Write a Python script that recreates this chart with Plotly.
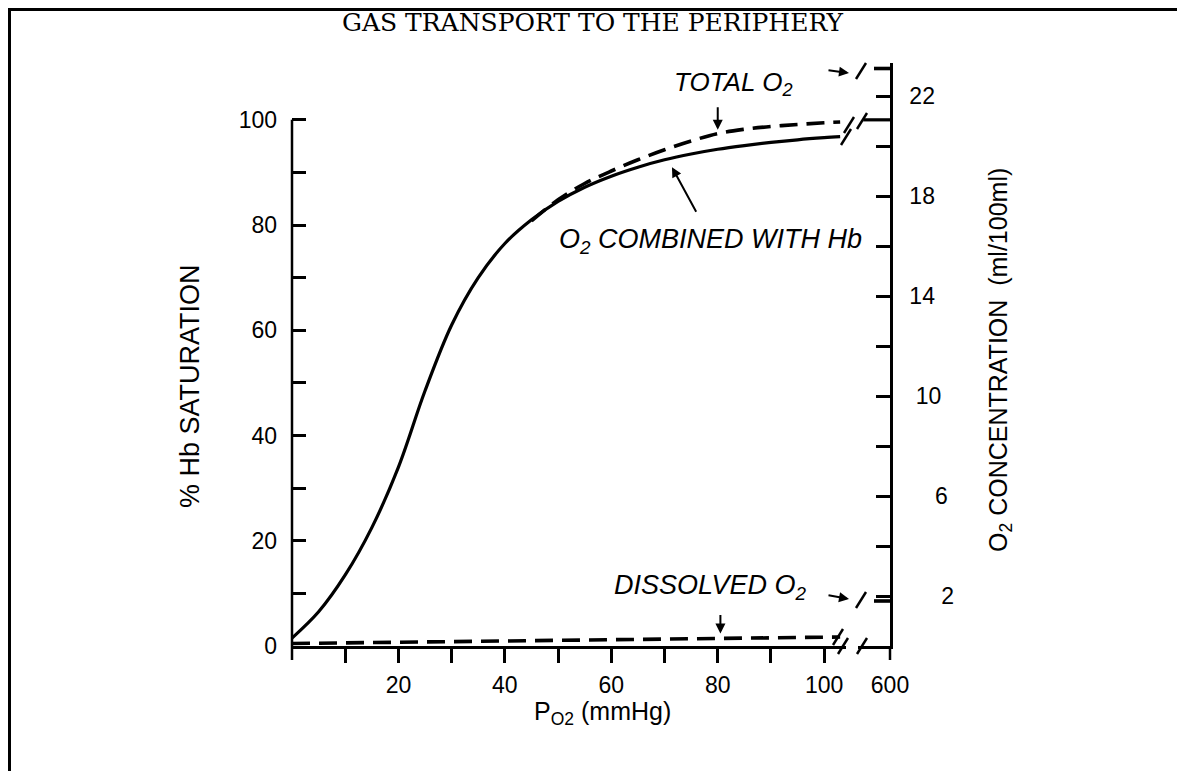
import plotly.graph_objects as go

# ---------------- data ----------------
P_HB = [0, 5, 10, 15, 20, 25, 30, 35, 40, 45, 50, 55, 60, 65, 70, 75, 80, 85, 90, 95, 100, 103]
HB_SAT = [1.5, 6.5, 13.5, 22.5, 34, 48.5, 61, 70, 76.5, 81, 84.5, 87.2, 89.3, 91, 92.4, 93.5, 94.4, 95.1, 95.7,
          96.2, 96.6, 96.8]

P_TOTAL = [45, 50, 55, 60, 65, 70, 75, 80, 85, 90, 95, 100, 103]
TOTAL_CONC = [17.0, 17.85, 18.5, 19.0, 19.45, 19.85, 20.2, 20.5, 20.67, 20.78, 20.86, 20.93, 20.96]

P_DISS = [0, 20, 40, 60, 80, 100, 103]
DISS_CONC = [0.1, 0.15, 0.2, 0.25, 0.3, 0.35, 0.36]

P_HB_HIGH = [595, 600]
HB_SAT_HIGH = [100, 100]
P_TOTAL_HIGH = [597, 600]
TOTAL_HIGH = [23.1, 23.1]
P_DISS_HIGH = [597, 600]
DISS_HIGH = [1.8, 1.8]

X_TICKS = [10, 20, 30, 40, 50, 60, 70, 80, 90, 100]
X_LABELS = ["", "20", "", "40", "", "60", "", "80", "", "100"]
YL_TICKS = [0, 10, 20, 30, 40, 50, 60, 70, 80, 90, 100]
YL_LABELS = ["0", "", "20", "", "40", "", "60", "", "80", "", "100"]
YR_TICKS = [0, 2, 4, 6, 8, 10, 12, 14, 16, 18, 20, 22]
YR_LABELS = ["", "\u00a0\u00a0\u00a0\u00a0\u00a02", "", "\u00a0\u00a0\u00a0\u00a06", "", "\u00a010", "", "14", "",
             "18", "", "22"]

# ---------------- geometry (page pixels, page has an 8px body margin) ----------------
OFF = 8
W, H = 1177, 763
L, R, T, B = 284, 295, 55, 125
PW = W - L - R
PH = H - T - B
ZERO_PAGE_Y = OFF + H - B  # page y of the x axis (646)


def fx(px):
    return (px - OFF - L) / PW


def fy(py):
    return (ZERO_PAGE_Y - py) / PH


YL_RANGE = [0, 110.8]
YR_RANGE = [0, 23.32]
X1_RANGE = [0, 104.1]
X2_RANGE = [594, 600]

FONT = "Liberation Sans"
BLACK = "black"
LW = 3.2
DASH = "18px,9px"

fig = go.Figure()
fig.add_trace(go.Scatter(x=P_HB, y=HB_SAT, mode="lines",
                         line=dict(color=BLACK, width=LW, shape="spline", smoothing=1.0),
                         xaxis="x", yaxis="y", showlegend=False))
fig.add_trace(go.Scatter(x=P_HB_HIGH, y=HB_SAT_HIGH, mode="lines", line=dict(color=BLACK, width=LW),
                         xaxis="x2", yaxis="y", showlegend=False))
fig.add_trace(go.Scatter(x=P_TOTAL, y=TOTAL_CONC, mode="lines",
                         line=dict(color=BLACK, width=3.6, dash=DASH, shape="spline"),
                         xaxis="x", yaxis="y2", showlegend=False))
fig.add_trace(go.Scatter(x=P_DISS, y=DISS_CONC, mode="lines",
                         line=dict(color=BLACK, width=3.6, dash=DASH),
                         xaxis="x", yaxis="y2", showlegend=False))
fig.add_trace(go.Scatter(x=P_TOTAL_HIGH, y=TOTAL_HIGH, mode="lines", line=dict(color=BLACK, width=3.6),
                         xaxis="x2", yaxis="y2", showlegend=False))
fig.add_trace(go.Scatter(x=P_DISS_HIGH, y=DISS_HIGH, mode="lines", line=dict(color=BLACK, width=3.6),
                         xaxis="x2", yaxis="y2", showlegend=False))

tickfont = dict(family=FONT, size=23, color=BLACK)
fig.update_layout(
    width=W, height=H,
    margin=dict(l=L, r=R, t=T, b=B, pad=0),
    paper_bgcolor="white", plot_bgcolor="white",
    xaxis=dict(domain=[0, fx(846)], range=X1_RANGE, anchor="y", showline=True, linecolor=BLACK, linewidth=2.5,
               ticks="outside", ticklen=14, tickwidth=2.5, tickcolor=BLACK, tickvals=X_TICKS, ticktext=X_LABELS,
               tickfont=tickfont, showgrid=False, zeroline=False, ticklabelstandoff=3),
    xaxis2=dict(domain=[fx(858), 1], range=X2_RANGE, anchor="y", showline=True, linecolor=BLACK, linewidth=2.5,
                ticks="", tickvals=[600], ticktext=["600"], tickfont=tickfont, showgrid=False, zeroline=False,
                ticklabelstandoff=17),
    yaxis=dict(range=YL_RANGE, anchor="x", showline=False, ticks="inside", ticklen=14, tickwidth=2.5,
               tickcolor=BLACK, tickvals=YL_TICKS, ticktext=YL_LABELS, tickfont=tickfont, showgrid=False,
               zeroline=False, ticklabelstandoff=14),
    yaxis2=dict(range=YR_RANGE, overlaying="y", side="right", anchor="x2", showline=True, linecolor=BLACK,
                linewidth=2.5, ticks="inside", ticklen=14, tickwidth=2.5, tickcolor=BLACK, tickvals=YR_TICKS,
                ticktext=YR_LABELS, tickfont=tickfont, showgrid=False, zeroline=False, ticklabelstandoff=12),
)

shapes = []
# left axis line (stops at 100 %), extending below the x axis like the reference
shapes.append(dict(type="line", xref="paper", yref="paper", x0=0, x1=0, y0=fy(ZERO_PAGE_Y + 14),
                   y1=100 / YL_RANGE[1], line=dict(color=BLACK, width=2.5)))
# right axis extension below zero
shapes.append(dict(type="line", xref="paper", yref="paper", x0=1, x1=1, y0=fy(ZERO_PAGE_Y + 14), y1=0,
                   line=dict(color=BLACK, width=2.5)))
# figure border (top and left)
shapes.append(dict(type="line", xref="paper", yref="paper", x0=fx(OFF), x1=fx(OFF + W), y0=fy(OFF + 1.5),
                   y1=fy(OFF + 1.5), line=dict(color=BLACK, width=3)))
shapes.append(dict(type="line", xref="paper", yref="paper", x0=fx(OFF + 1.5), x1=fx(OFF + 1.5), y0=fy(OFF),
                   y1=fy(OFF + H), line=dict(color=BLACK, width=3)))


def slash(px, py):
    shapes.append(dict(type="line", xref="paper", yref="paper", x0=fx(px - 5), x1=fx(px + 5),
                       y0=fy(py + 8), y1=fy(py - 8), line=dict(color=BLACK, width=2.5)))


# axis-break marks
for (xa, ya) in [(843, ZERO_PAGE_Y), (838, ZERO_PAGE_Y - 9), (846, 137), (849, 125)]:
    slash(xa, ya)
for (xb, yb) in [(862, ZERO_PAGE_Y), (861, 600), (862, 121), (861, 71)]:
    slash(xb, yb)
fig.update_layout(shapes=shapes)


def label(text, px, py, size, angle=0, family=FONT):
    return dict(text=text, xref="paper", yref="paper", x=fx(px), y=fy(py), xanchor="center", yanchor="middle",
                textangle=angle, showarrow=False, font=dict(family=family, size=size, color=BLACK))


ann = [
    label("GAS TRANSPORT TO THE PERIPHERY", 592, 22, 25, family="DejaVu Serif"),
    label("% Hb SATURATION", 190, 386, 27, angle=-90),
    label("O<sub>2</sub> CONCENTRATION  (ml/100ml)", 1000, 360, 25, angle=-90),
    label("P<sub>O2</sub> (mmHg)", 602, 713, 25),
    label("<i>TOTAL O<sub>2</sub></i>", 733, 83, 26),
    label("<i>O<sub>2</sub> COMBINED WITH Hb</i>", 710, 241, 27),
    label("<i>DISSOLVED O<sub>2</sub></i>", 710, 587, 27),
]
arrow = dict(text="", showarrow=True, arrowhead=2, arrowsize=1, arrowwidth=2, arrowcolor=BLACK)
ann.append(dict(arrow, xref="x", yref="y2", x=80, y=20.65, ax=0, ay=-24))
ann.append(dict(arrow, xref="paper", yref="paper", x=fx(849), y=fy(73), ax=-22, ay=-3))
ann.append(dict(arrow, xref="x", yref="y", x=71.4, y=91, ax=25, ay=46))
ann.append(dict(arrow, xref="x", yref="y2", x=80.5, y=0.5, ax=0, ay=-20))
ann.append(dict(arrow, xref="paper", yref="paper", x=fx(849), y=fy(599), ax=-22, ay=-4))
fig.update_layout(annotations=ann)

fig.write_html("out.html")
